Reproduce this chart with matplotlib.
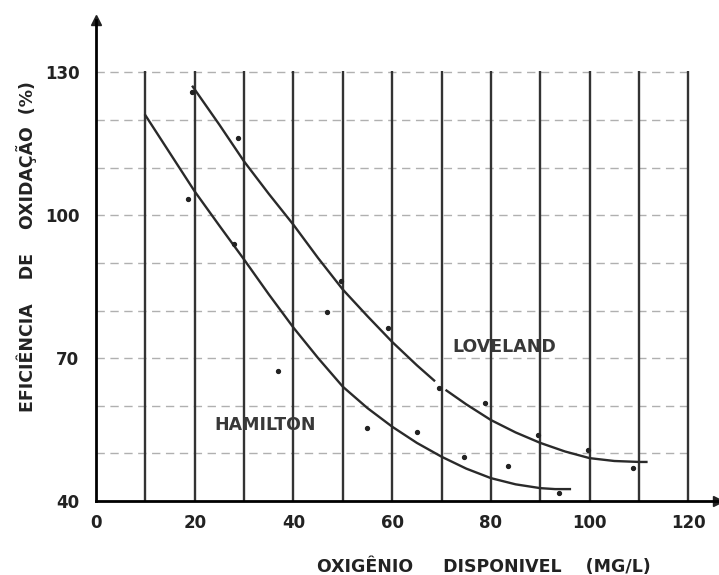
import numpy as np
import matplotlib.pyplot as plt

# pontos medidos
lov_x = [19.4, 28.7, 49.6, 59.1, 69.4, 78.9, 89.5, 99.6, 108.7]
lov_y = [125.8, 116.3, 86.3, 76.4, 63.8, 60.6, 53.9, 50.7, 46.9]
ham_x = [18.6, 27.9, 36.8, 46.8, 54.9, 65.0, 74.5, 83.4, 93.7]
ham_y = [103.5, 94.0, 67.3, 79.7, 55.3, 54.5, 49.3, 47.4, 41.7]

# curvas ajustadas
ham_cx = [10, 15, 20, 25, 30, 35, 40, 45, 50, 55, 60, 65, 70, 75, 80, 85, 90, 93, 96]
ham_cy = [121.0, 113.0, 105.0, 97.8, 90.7, 83.4, 76.4, 70.0, 64.0, 59.5, 55.6, 52.2,
          49.3, 46.8, 44.8, 43.5, 42.7, 42.5, 42.5]
lov_cx = [19.6, 25, 30, 35, 40, 45, 50, 55, 60, 65, 68.5, np.nan, 71, 75, 80, 85, 90,
          95, 100, 105, 110, 111.5]
lov_cy = [127.0, 119.0, 111.3, 104.5, 98.0, 91.0, 84.4, 78.8, 73.4, 68.5, 65.3, np.nan,
          63.2, 60.3, 57.0, 54.4, 52.2, 50.4, 49.0, 48.4, 48.2, 48.2]

xticks = [0, 20, 40, 60, 80, 100, 120]
yticks = [40, 70, 100, 130]

fig = plt.figure(figsize=(7.19, 5.75), dpi=100)
ax = fig.add_axes([96/719, 74/575, 622/719, 481/575])
ax.set_xlim(0, 126)
ax.set_ylim(40, 141)

# grade
for gy in range(50, 140, 10):
    ax.plot([0, 120], [gy, gy], color='#b0b0b0', lw=1, ls=(0, (6, 4)), zorder=1)
ax.vlines(range(10, 130, 10), 40, 130.3, color='#333333', lw=1.7, zorder=2)

ax.plot(ham_cx, ham_cy, color='#2a2a2a', lw=1.7, zorder=3)
ax.plot(lov_cx, lov_cy, color='#2a2a2a', lw=1.7, zorder=3)
ax.plot(ham_x, ham_y, 'o', color='#222222', ms=2.8, zorder=4)
ax.plot(lov_x, lov_y, 'o', color='#222222', ms=2.8, zorder=4)

ax.text(82.8, 72.4, 'LOVELAND', fontsize=12.5, fontweight='bold', ha='center',
        va='center', color='#383838', zorder=5)
ax.text(34.2, 56.0, 'HAMILTON', fontsize=12.5, fontweight='bold', ha='center',
        va='center', color='#383838', zorder=5)

for s in ['top', 'right']:
    ax.spines[s].set_visible(False)
ax.spines['left'].set_linewidth(2)
ax.spines['bottom'].set_linewidth(2)
ax.plot(1, 0, '>', color='#222222', ms=7, transform=ax.transAxes, clip_on=False)
ax.plot(0, 1, '^', color='#222222', ms=7, transform=ax.transAxes, clip_on=False)

ax.set_xticks(xticks)
ax.set_yticks(yticks)
ax.tick_params(length=0, labelsize=12, pad=9, colors='#222222')
ax.tick_params(axis='y', pad=12)
for lb in ax.get_xticklabels() + ax.get_yticklabels():
    lb.set_fontweight('bold')

fig.text(484/719, 1 - 567/575, 'OXIGÊNIO     DISPONIVEL    (MG/L)', fontsize=12.5,
         fontweight='bold', ha='center', va='center', color='#222222')
fig.text(27/719, 1 - 247/575, 'EFICIÊNCIA    DE    OXIDAÇÃO  (%)', fontsize=12.5,
         fontweight='bold', ha='center', va='center', rotation=90, color='#222222')

fig.savefig('out.png', dpi=100)
